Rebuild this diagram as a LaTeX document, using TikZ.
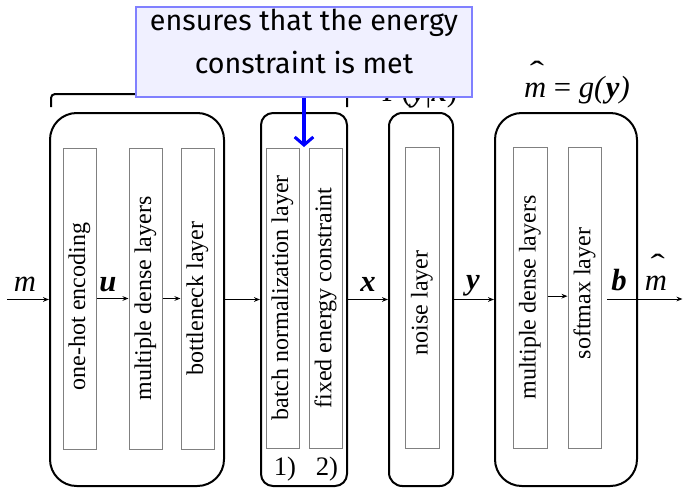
\documentclass[tikz,border=0pt]{standalone}
\usepackage{fontspec}
\setmainfont{Liberation Serif}
\newfontfamily\callfont{Fira Sans}
\usetikzlibrary{arrows.meta,fit}
\definecolor{calloutfill}{RGB}{240,240,255}
\definecolor{calloutdraw}{RGB}{128,128,255}
\newcommand\hatm{\textit{m}\llap{\makebox[0.6em][c]{\raisebox{0.46em}{\scalebox{1.4}[1]{ˆ}}}}}
\newcommand\bvar[1]{\textbf{\textit{#1}}}
\begin{document}
\begin{tikzpicture}[x=0.75pt,y=-0.75pt,
  outer/.style={draw,line width=1.5pt,inner sep=0pt},
  innerbox/.style={draw=gray,line width=0.75pt,inner sep=0pt},
  lbl/.style={rotate=90,font=\fontsize{18}{20}\selectfont,inner sep=0pt},
  var/.style={font=\fontsize{23}{25}\selectfont,inner sep=0pt,anchor=base},
  flow/.style={-{Stealth[length=4.5pt,width=3.5pt]},line width=0.75pt},
  callout/.style={draw=calloutdraw,fill=calloutfill,line width=1.1pt,inner sep=0pt,
    align=center,font=\callfont\fontsize{21.5}{32}\selectfont},
  bluearrow/.style={draw=blue,line width=2.3pt,-{Straight Barb[length=6pt,width=14pt,line width=2.3pt]}},
]
\useasboundingbox (0,0) rectangle (683,487);

% outer blocks
\node[outer,rounded corners=20pt,fit={(50,113)(224,486)}] (enc) {};
\node[outer,rounded corners=9pt,fit={(261,113)(347,486)}] (norm) {};
\node[outer,rounded corners=10pt,fit={(389,113)(453,486)}] (noise) {};
\node[outer,rounded corners=20pt,fit={(495,113)(637,486)}] (dec) {};

% inner layers
\node[innerbox,fit={(63,148)(96,449)}] (oh) {};
\node[innerbox,fit={(129,148)(162,449)}] (md) {};
\node[innerbox,fit={(181,148)(214,449)}] (bl) {};
\node[innerbox,fit={(266,148)(299,448)}] (bn) {};
\node[innerbox,fit={(309,148)(342,448)}] (fe) {};
\node[innerbox,fit={(405,147)(439,448)}] (nl) {};
\node[innerbox,fit={(513,147)(547,448)}] (md2) {};
\node[innerbox,fit={(568,147)(601,448)}] (sm) {};

\node[lbl] at ([yshift=-6pt]oh.center) {one-hot encoding};
\node[lbl] at (md.center) {multiple dense layers};
\node[lbl] at (bl.center) {bottleneck layer};
\node[lbl] at (bn.center) {batch normalization layer};
\node[lbl] at (fe.center) {fixed energy constraint};
\node[lbl] at ([yshift=-4pt]nl.center) {noise layer};
\node[lbl] at (md2.center) {multiple dense layers};
\node[lbl] at ([yshift=3pt]sm.center) {softmax layer};

\node[font=\fontsize{20}{22}\selectfont,inner sep=0pt,anchor=base] (n1) at (285,475) {1)};
\node[font=\fontsize{20}{22}\selectfont,inner sep=0pt,anchor=base] (n2) at (327,475) {2)};

% connectors
\coordinate (min) at (7,299.5);
\coordinate (bstart) at (607,299);
\coordinate (mout) at (682.5,299);
\draw[flow] (min) -- (enc.west);
\draw[flow] (oh.east) -- (md.west);
\draw[flow] (md.east) -- (bl.west);
\draw[flow] (enc.east) -- (norm.west);
\draw[flow] (norm.east) -- (noise.west);
\draw[flow] (noise.east) -- (dec.west);
\draw[flow] ([yshift=1pt]md2.east) -- ([yshift=1pt]sm.west);
\draw[flow] (bstart) -- (mout);

% variable labels
\node[var] (lm) at (25,291) {\textit{m}};
\node[var] (lu) at (108,291) {\bvar{u}};
\node[var] (lx) at (368,291) {\bvar{x}};
\node[var] (ly) at (473,289) {\bvar{y}};
\node[var] (lb) at (619,290) {\bvar{b}};
\node[var] (lmh) at (656,290) {\hatm};
\node[var] (lg) at (577,97) {\hatm\ = \textit{g(}\bvar{y}\textit{)}};
\node[var] (lp) at (420,101) {\textit{P}(\bvar{y}|\bvar{x})};

% bracket (partly hidden)
\draw[line width=1.5pt,rounded corners=3pt] (51,107) -- (51,94) -- (347,94) -- (347,107);

% callout
\node[callout,fit={(136,7)(472,97)}] (note) {ensures that the energy\\constraint is met};
\coordinate (tip) at (304,147);
\draw[bluearrow] (note.south) -- (tip);
\end{tikzpicture}
\end{document}
